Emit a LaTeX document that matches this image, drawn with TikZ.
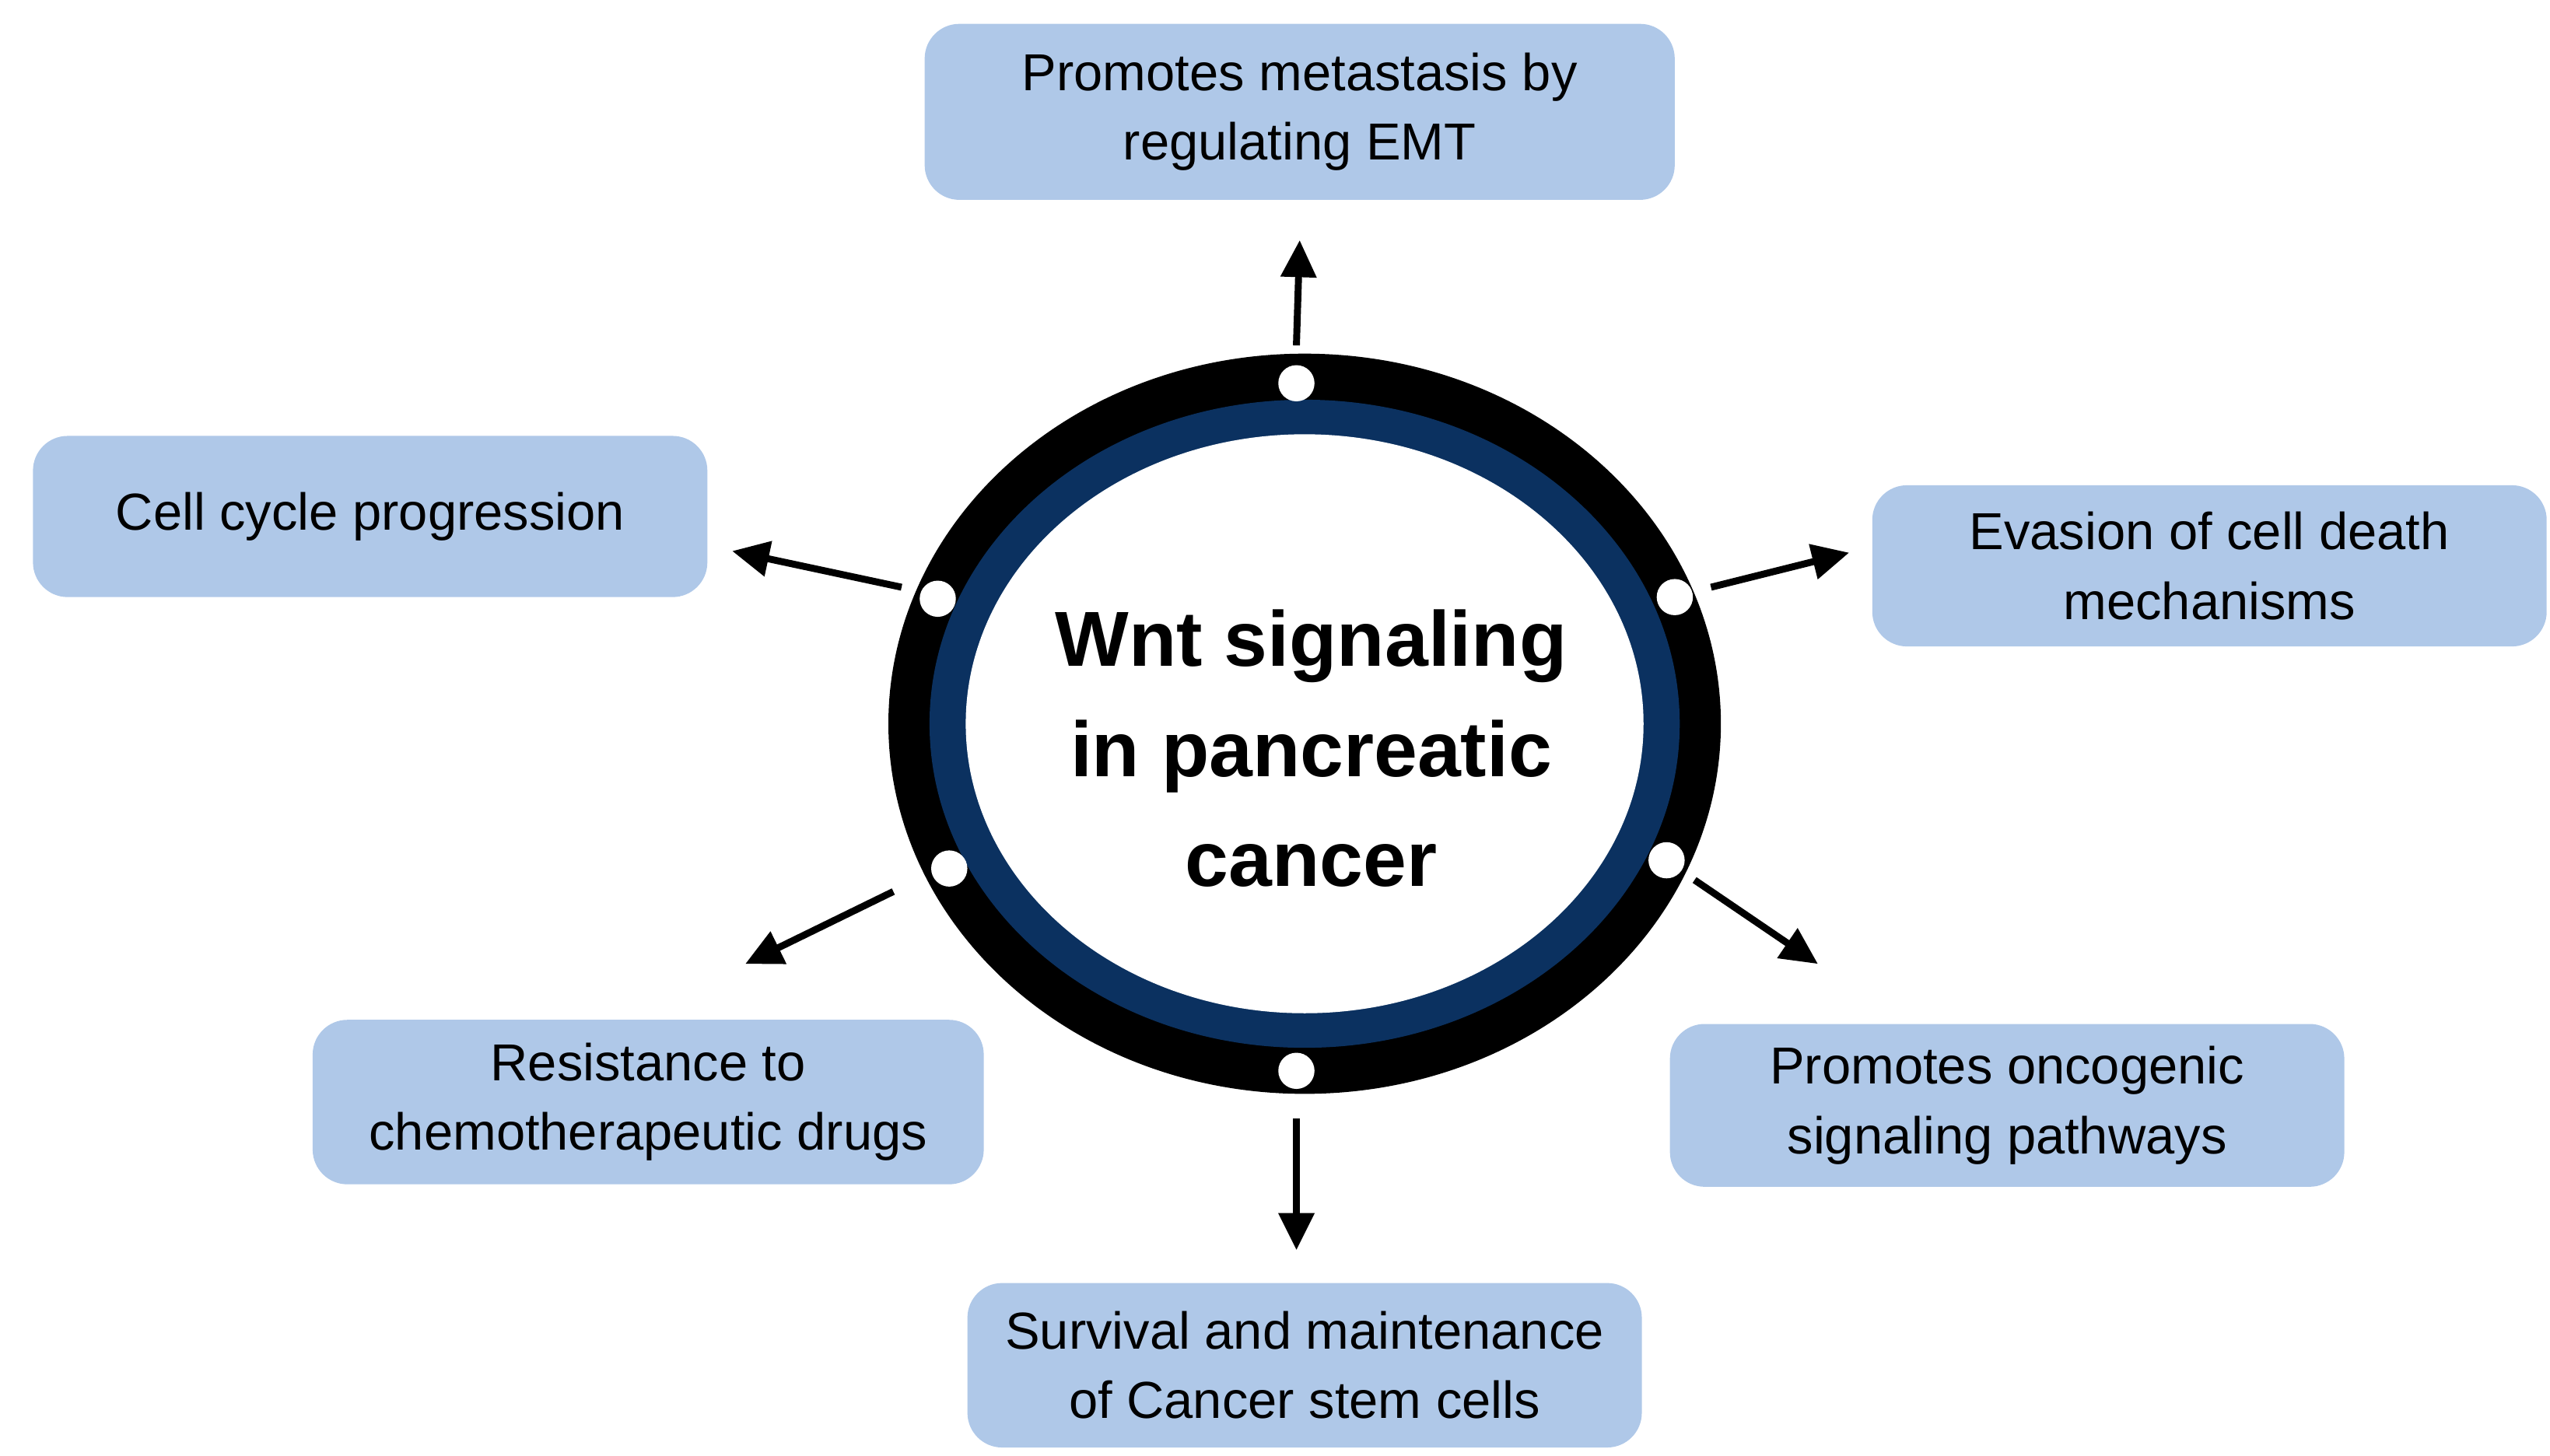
\documentclass[tikz,border=0pt]{standalone}
\usepackage{fontspec}
\setmainfont{Liberation Sans}
\usetikzlibrary{arrows.meta}
\definecolor{boxblue}{HTML}{AFC8E8}
\definecolor{ringblue}{HTML}{0B3160}
\begin{document}
\begin{tikzpicture}[x=0.02cm,y=-0.02cm,
  box/.style={fill=boxblue,rounded corners=12pt,draw=none,align=center,font=\fontsize{18}{24}\selectfont,inner sep=0pt},
  dot/.style={circle,fill=white,draw=none,minimum size=0.44cm,inner sep=0pt},
  arr/.style={line width=2.4pt,-{Triangle[length=0.45cm,width=0.42cm]}}]
\useasboundingbox (0,0) rectangle (1550,885);
% rings
\fill[black] (793,440) ellipse [x radius=253, y radius=225];
\fill[ringblue] (793,440) ellipse [x radius=228, y radius=197];
\fill[white] (793,440) ellipse [x radius=206, y radius=176];
\node[font=\bfseries\fontsize{27}{38}\selectfont,align=center] (c) at (797,455) {Wnt signaling\\in pancreatic\\cancer};
% dots
\node[dot] (d1) at (788,233) {};
\node[dot] (d2) at (1018,363) {};
\node[dot] (d3) at (1013,523) {};
\node[dot] (d4) at (788,651) {};
\node[dot] (d5) at (577,528) {};
\node[dot] (d6) at (570,364) {};
% boxes
\node[box,minimum width=9.12cm,minimum height=2.14cm] (b1) at (790,68) {Promotes metastasis by\\regulating EMT};
\node[box,minimum width=8.2cm,minimum height=1.96cm] (b2) at (225,314) {Cell cycle progression};
\node[box,minimum width=8.2cm,minimum height=1.96cm] (b3) at (1343,344) {Evasion of cell death\\mechanisms};
\node[box,minimum width=8.16cm,minimum height=2.0cm] (b4) at (394,670) {Resistance to\\chemotherapeutic drugs};
\node[box,minimum width=8.2cm,minimum height=1.98cm] (b5) at (1220,672) {Promotes oncogenic\\signaling pathways};
\node[box,minimum width=8.2cm,minimum height=2.0cm] (b6) at (793,830) {Survival and maintenance\\of Cancer stem cells};
% arrow endpoints
\coordinate (s1) at (788,210); \coordinate (e1) at (790,146);
\coordinate (s2) at (548,357); \coordinate (e2) at (445,335);
\coordinate (s3) at (1040,357); \coordinate (e3) at (1124,336);
\coordinate (s4) at (543,542); \coordinate (e4) at (453,586);
\coordinate (s5) at (1030,535); \coordinate (e5) at (1105,586);
\coordinate (s6) at (788,680); \coordinate (e6) at (788,760);
\foreach \i in {1,...,6}{\draw[arr] (s\i) -- (e\i);}
\end{tikzpicture}
\end{document}
